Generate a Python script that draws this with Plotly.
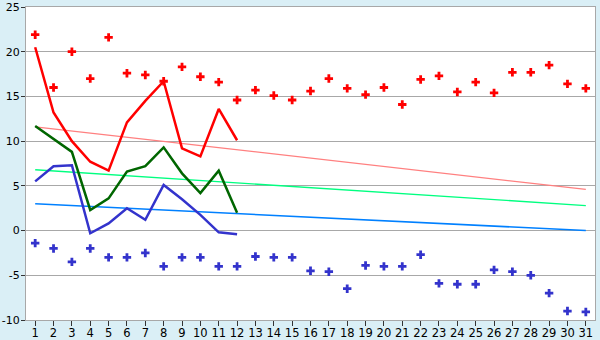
import plotly.graph_objects as go

days = list(range(1, 32))
day_labels = [str(d) for d in days]

y_ticks = [-10, -5, 0, 5, 10, 15, 20, 25]
y_labels = ["-10", "-5", "0", "5", "10", "15", "20", "25"]

max_temp = [21.9, 16.0, 20.0, 17.0, 21.6, 17.6, 17.4, 16.7, 18.3, 17.2,
            16.6, 14.6, 15.7, 15.1, 14.6, 15.6, 17.0, 15.9, 15.2, 16.0,
            14.1, 16.9, 17.3, 15.5, 16.6, 15.4, 17.7, 17.7, 18.5, 16.4, 15.9]
min_temp = [-1.4, -2.0, -3.5, -2.0, -3.0, -3.0, -2.5, -4.0, -3.0, -3.0,
            -4.0, -4.0, -2.9, -3.0, -3.0, -4.5, -4.6, -6.5, -3.9, -4.0,
            -4.0, -2.7, -5.9, -6.0, -6.0, -4.4, -4.6, -5.0, -7.0, -9.0, -9.1]

line_days = list(range(1, 13))
red_line = [20.5, 13.2, 10.0, 7.7, 6.7, 12.1, 14.5, 16.7, 9.2, 8.3, 13.6, 10.1]
green_line = [11.7, 10.2, 8.8, 2.3, 3.6, 6.6, 7.2, 9.3, 6.4, 4.2, 6.7, 2.0]
blue_line = [5.5, 7.2, 7.3, -0.3, 0.8, 2.5, 1.2, 5.1, 3.5, 1.75, -0.2, -0.4]

trend_days = [1, 31]
red_trend = [11.6, 4.6]
green_trend = [6.8, 2.8]
blue_trend = [3.0, 0.0]

fig = go.Figure()

fig.add_trace(go.Scatter(x=trend_days, y=red_trend, mode="lines",
                         line=dict(color="#FF8080", width=1.3)))
fig.add_trace(go.Scatter(x=trend_days, y=green_trend, mode="lines",
                         line=dict(color="#00FF80", width=1.3)))
fig.add_trace(go.Scatter(x=trend_days, y=blue_trend, mode="lines",
                         line=dict(color="#0080FF", width=1.5)))

fig.add_trace(go.Scatter(x=line_days, y=red_line, mode="lines",
                         line=dict(color="#FF0000", width=2.5)))
fig.add_trace(go.Scatter(x=line_days, y=green_line, mode="lines",
                         line=dict(color="#006600", width=2.5)))
fig.add_trace(go.Scatter(x=line_days, y=blue_line, mode="lines",
                         line=dict(color="#3333CC", width=2.5)))

fig.add_trace(go.Scatter(x=days, y=max_temp, mode="markers",
                         marker=dict(symbol="cross", size=7, color="#FF0000",
                                     line=dict(width=0))))
fig.add_trace(go.Scatter(x=days, y=min_temp, mode="markers",
                         marker=dict(symbol="cross", size=7, color="#3333CC",
                                     line=dict(width=0))))

fig.update_layout(
    width=600, height=340,
    margin=dict(l=26, r=5, t=7, b=20, autoexpand=False),
    paper_bgcolor="#DAEFF6",
    plot_bgcolor="#FFFFFF",
    showlegend=False,
    font=dict(family="DejaVu Sans", size=12, color="#000000"),
)
fig.update_xaxes(
    range=[0.5, 31.5], tickmode="array", tickvals=days, ticktext=day_labels,
    showgrid=False, zeroline=False, automargin=False,
    showline=True, linecolor="#A8A8A8", linewidth=1, mirror=True,
    ticks="outside", ticklen=5, tickcolor="#333333",
    tickfont=dict(size=11.5), ticklabelstandoff=-3,
)
fig.update_yaxes(
    range=[-10, 25], tickmode="array", tickvals=y_ticks, ticktext=y_labels,
    showgrid=True, gridcolor="#A8A8A8", gridwidth=1,
    zeroline=False, automargin=False,
    showline=True, linecolor="#A8A8A8", linewidth=1, mirror=True,
    ticks="outside", ticklen=4, tickcolor="#333333",
    tickfont=dict(size=11), ticklabelstandoff=-1,
)

fig.write_html("out.html")
